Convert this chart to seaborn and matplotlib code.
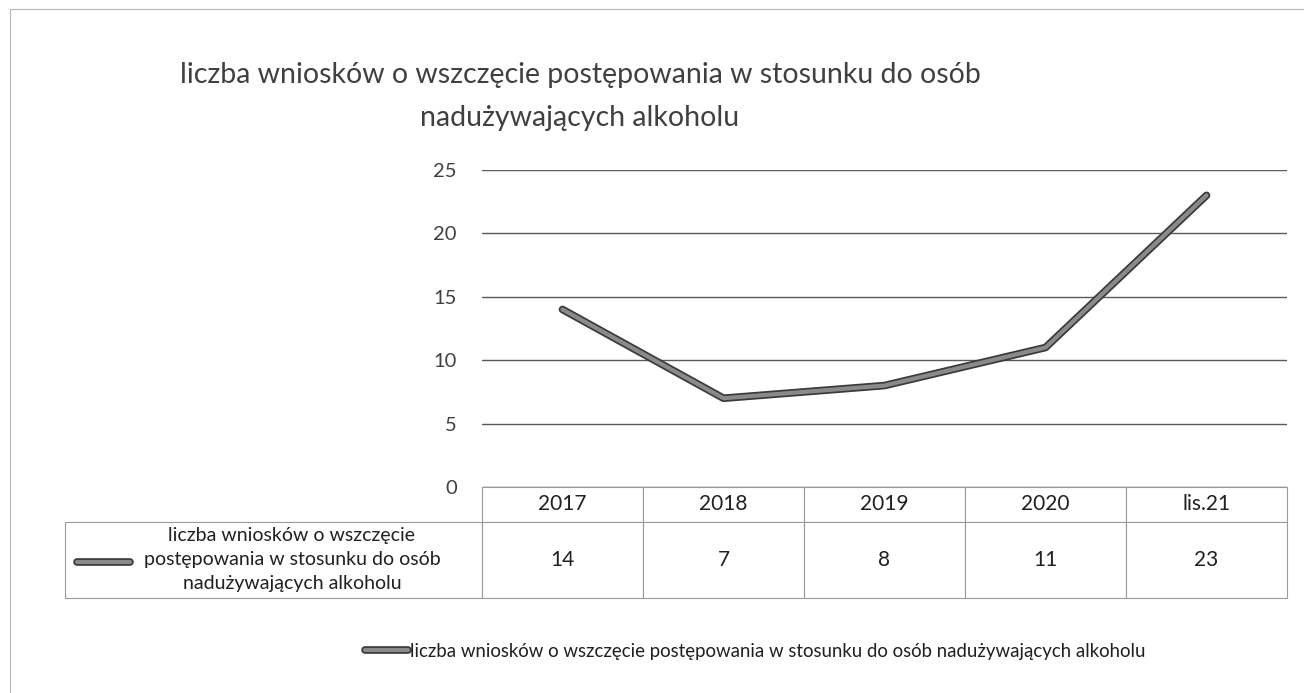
import matplotlib
matplotlib.use('Agg')
import matplotlib.pyplot as plt
import matplotlib.patheffects as pe
from matplotlib.lines import Line2D
from matplotlib.patches import Rectangle
import seaborn as sns

categories = ['2017', '2018', '2019', '2020', 'lis.21']
values = [14, 7, 8, 11, 23]
series_name = 'liczba wniosków o wszczęcie postępowania w stosunku do osób nadużywających alkoholu'
row_label = 'liczba wniosków o wszczęcie\npostępowania w stosunku do osób\nnadużywających alkoholu'
title = 'liczba wniosków o wszczęcie postępowania w stosunku do osób\nnadużywających alkoholu'
y_ticks = [0, 5, 10, 15, 20, 25]

text_grey = '#404040'
line_grey = '#8a8a8a'
edge_dark = '#3a3a3a'
grid_grey = '#5a5a5a'

sns.set_style('white')
plt.rcParams['font.family'] = ['Lato', 'DejaVu Sans']

fig = plt.figure(figsize=(13.04, 6.93), dpi=100)
ax = fig.add_axes([482/1304, 1 - 487/693, 805/1304, 317/693])

x_pos = list(range(len(categories)))
stroke = [pe.Stroke(linewidth=5.5, foreground=edge_dark), pe.Normal()]
sns.lineplot(x=x_pos, y=values, ax=ax, color=line_grey, linewidth=3,
             path_effects=stroke, label=series_name, legend=False)

ax.set_xlim(-0.5, len(categories) - 0.5)
ax.set_ylim(0, 25)
ax.set_yticks(y_ticks)
ax.set_yticklabels([str(t) for t in y_ticks], fontsize=14.5, color=text_grey)
ax.tick_params(axis='y', length=0, pad=18)
ax.set_xticks([])
ax.yaxis.grid(True, color=grid_grey, linewidth=1.0)
ax.set_axisbelow(True)
for s in ax.spines.values():
    s.set_visible(False)

fig.suptitle(title, fontsize=20.5, color=text_grey, x=580/1304, y=1 - 62/693,
             va='top', linespacing=1.8)

# data table under the plot (first column holds the series label)
tbl = ax.table(cellText=[[row_label] + [str(v) for v in values]],
               colLabels=[''] + categories, cellLoc='center',
               bbox=[-417/805, -111/317, 1 + 417/805, 111/317])
tbl.auto_set_font_size(False)
tbl.set_fontsize(15)
for (r, c), cell in tbl.get_celld().items():
    cell.set_edgecolor('#9a9a9a')
    cell.set_linewidth(0.8)
    cell.get_text().set_color('#202020')
    cell.set_height(35 if r == 0 else 76)
    cell.set_width(417 if c == 0 else 161)
tbl[0, 0].visible_edges = 'open'
lab = tbl[1, 0]
lab._loc = 'right'
lab.get_text().set_horizontalalignment('right')
lab.get_text().set_multialignment('center')
lab.get_text().set_fontsize(14)
lab.get_text().set_linespacing(1.5)

# legend key inside the table row label
ax.add_line(Line2D([-405/805, -352/805], [-75/317, -75/317], transform=ax.transAxes,
                   color=line_grey, linewidth=3, clip_on=False, path_effects=stroke))

handles, labels = ax.get_legend_handles_labels()
fig.legend(handles, labels, loc='center', bbox_to_anchor=(755/1304, 1 - 651/693),
           frameon=False, fontsize=13.4, handlelength=2.3, handletextpad=0.1,
           labelcolor='#202020')

# chart area border
fig.add_artist(Rectangle((10/1304, -0.1), 1.2, 1.1 - 9/693, transform=fig.transFigure,
                         fill=False, edgecolor='#b5b5b5', linewidth=0.8))

fig.savefig('out.png', dpi=100, facecolor='white')
